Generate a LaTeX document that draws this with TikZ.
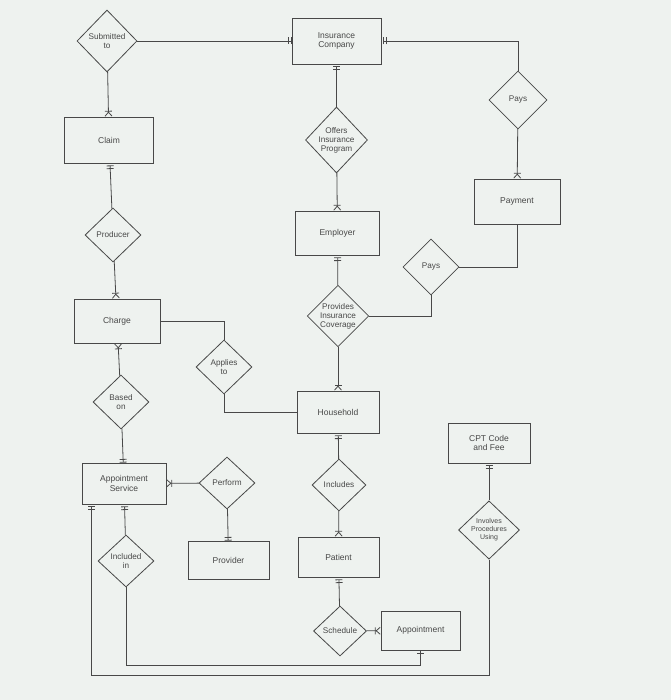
\documentclass[tikz,border=0pt]{standalone}
\usepackage{fontspec}
\setmainfont{Liberation Sans}
\usetikzlibrary{shapes.geometric, arrows.meta}
\definecolor{screen}{RGB}{238,242,239}
\definecolor{ink}{RGB}{72,72,72}

\begin{document}
\begin{tikzpicture}[x=1pt, y=-1pt, line width=0.8pt, color=ink,
            entity/.style = {draw, rectangle, minimum width=84pt, minimum height=42pt,
                             align=center, font=\fontsize{8.5}{9.5}\selectfont},
            rel/.style = {draw, diamond, inner sep=0pt, minimum width=56pt, minimum height=54pt,
                          align=center, font=\fontsize{8.2}{9}\selectfont},
            toone/.style = {-{Bar[width=7pt,sep=2pt]Bar[width=7pt]}},
            fromone/.style = {{Bar[width=7pt,sep=2pt]Bar[width=7pt,sep=2pt]}-},
            tomany/.style = {-{Bar[width=7pt]Straight Barb[reversed,length=4pt,width=7pt]}},
            frommany/.style = {{Straight Barb[reversed,length=4pt,width=7pt]Bar[width=7pt]}-}]

           \fill[screen] (0,0) rectangle (671,700);

           % entities
           \node[entity, minimum width=89pt, minimum height=46pt] (ic) at (336.5,41) {Insurance\\Company};
           \node[entity, minimum width=89pt, minimum height=46pt] (claim) at (109,140) {Claim};
           \node[entity, minimum width=86pt, minimum height=45pt] (payment) at (517,201.5) {Payment};
           \node[entity, minimum height=44pt] (employer) at (337.5,233) {Employer};
           \node[entity, minimum width=86pt, minimum height=44pt] (charge) at (117,321) {Charge};
           \node[entity, minimum width=82pt] (household) at (338,412) {Household};
           \node[entity, minimum width=82pt, minimum height=40pt] (cpt) at (489,443) {CPT Code\\and Fee};
           \node[entity, minimum height=41pt] (as) at (124,483.5) {Appointment\\Service};
           \node[entity, minimum width=81pt, minimum height=38pt] (provider) at (228.5,560) {Provider};
           \node[entity, minimum width=81pt, minimum height=40pt] (patient) at (338.5,557) {Patient};
           \node[entity, minimum width=79pt, minimum height=39pt] (appt) at (420.5,630.5) {Appointment};

           % relationships
           \node[rel, minimum width=60pt, minimum height=62pt] (subto) at (107,41) {Submitted\\to};
           \node[rel, minimum width=62pt, minimum height=66pt] (offers) at (336.5,140) {Offers\\Insurance\\Program};
           \node[rel, minimum width=58pt, minimum height=58pt] (pays1) at (518,100) {Pays};
           \node[rel] (producer) at (113,235) {Producer};
           \node[rel, minimum width=60pt, minimum height=60pt] (pic) at (338,316) {Provides\\Insurance\\Coverage};
           \node[rel, minimum height=56pt] (pays2) at (431,267) {Pays};
           \node[rel] (applies) at (224,367) {Applies\\to};
           \node[rel] (basedon) at (121,402) {Based\\on};
           \node[rel, minimum height=52pt] (perform) at (227,483) {Perform};
           \node[rel, minimum height=52pt] (included) at (126,561) {Included\\in};
           \node[rel, minimum width=54pt, minimum height=52pt] (includes) at (339,485) {Includes};
           \node[rel, minimum width=53pt, minimum height=50pt] (schedule) at (340,631) {Schedule};
           \node[rel, minimum width=61pt, minimum height=55pt, font=\fontsize{7}{8}\selectfont] (involves) at (489,530) {Involves\\Procedures\\Using};

           \coordinate (lowin) at (420.5,665);
           \coordinate (lowout) at (489,675);

           % links with cardinality marks
           \draw[toone] (subto) -- (ic);
           \draw[fromone] (ic.east) -| (pays1.north);
           \draw[tomany] (pays1) -- (payment);
           \draw (payment.south) |- (pays2.east);
           \draw (pays2.south) |- (pic.east);
           \draw[tomany] (subto) -- (claim);
           \draw[fromone] (claim) -- (producer);
           \draw[tomany] (producer) -- (charge);
           \draw (charge.east) -| (applies.north);
           \draw (applies.south) |- (household.west);
           \draw[fromone] (ic) -- (offers);
           \draw[tomany] (offers) -- (employer);
           \draw[fromone] (employer) -- (pic);
           \draw[tomany] (pic) -- (household);
           \draw[frommany] (charge) -- (basedon);
           \draw[toone] (basedon) -- (as);
           \draw[tomany] (perform) -- (as);
           \draw[toone] (perform) -- (provider);
           \draw[fromone] (as) -- (included);
           \draw[fromone] ([xshift=10pt]as.south west) |- (lowout) -- (involves.south);
           \draw[toone] (included.south) |- (lowin) -- (appt.south);
           \draw[fromone] (household) -- (includes);
           \draw[tomany] (includes) -- (patient);
           \draw[fromone] (patient) -- (schedule);
           \draw[tomany] (schedule) -- (appt);
           \draw[fromone] (cpt) -- (involves);
        \end{tikzpicture}
\end{document}
